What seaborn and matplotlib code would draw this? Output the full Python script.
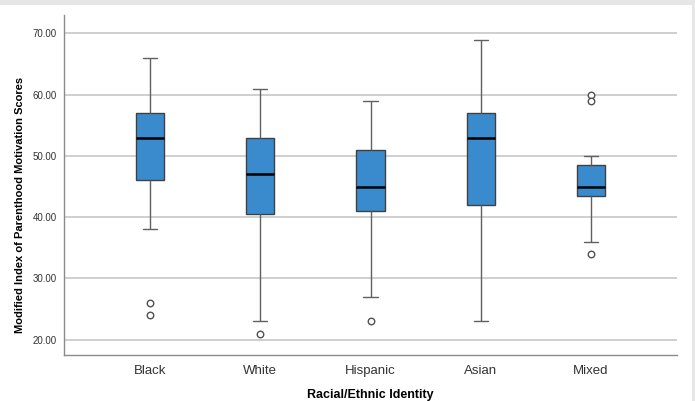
import pandas as pd
import matplotlib
matplotlib.use('Agg')
import matplotlib.pyplot as plt
import seaborn as sns
from matplotlib.patches import Rectangle

# Box summary (SPSS style: whisker ends, hinges, median)
groups = ['Black', 'White', 'Hispanic', 'Asian', 'Mixed']
whisker_low = [38, 23, 27, 23, 36]
q1 = [46, 40.5, 41, 42, 43.5]
median = [53, 47, 45, 53, 45]
q3 = [57, 53, 51, 57, 48.5]
whisker_high = [66, 61, 59, 69, 50]

# Outliers drawn as open circles
outlier_group = ['Black', 'Black', 'White', 'Hispanic', 'Mixed', 'Mixed', 'Mixed']
outlier_value = [26, 24, 21, 23, 60, 59, 34]

# Five points per group -> linear percentiles give exactly q1/median/q3,
# whis=(0, 100) puts whisker ends on the min/max
rows = []
for i, g in enumerate(groups):
    for v in [whisker_low[i], q1[i], median[i], q3[i], whisker_high[i]]:
        rows.append({'group': g, 'score': v})
df = pd.DataFrame(rows)
df_out = pd.DataFrame({'group': outlier_group, 'score': outlier_value})

sns.set_theme(style='white')
plt.rcParams['font.family'] = ['Liberation Sans', 'DejaVu Sans']

fig = plt.figure(figsize=(6.95, 4.01), dpi=100)
ax = fig.add_axes([64 / 695, 1 - 355 / 401, (677 - 64) / 695, (355 - 15) / 401])

box_color = '#3A8BCD'
sns.boxplot(data=df, x='group', y='score', order=groups, whis=(0, 100),
            width=0.255, color=box_color, saturation=1, ax=ax, zorder=3,
            boxprops=dict(edgecolor='#404040', linewidth=1.0),
            whiskerprops=dict(color='#606060', linewidth=1.0),
            capprops=dict(color='#606060', linewidth=1.0),
            medianprops=dict(color='black', linewidth=1.8),
            showfliers=False)

sns.scatterplot(data=df_out, x='group', y='score', ax=ax, marker='o', s=22,
                facecolor='white', edgecolor='#505050', linewidth=1.0, zorder=4,
                legend=False)

ax.set_xlim(-0.78, 4.78)
ax.set_ylim(17.5, 73.0)
ax.set_yticks([20, 30, 40, 50, 60, 70])
ax.set_yticklabels([f'{t:.2f}' for t in [20, 30, 40, 50, 60, 70]])
ax.yaxis.grid(True, color='#cccccc', linewidth=1.3, zorder=0)
ax.set_axisbelow(True)

for side in ['top', 'right']:
    ax.spines[side].set_visible(False)
for side in ['left', 'bottom']:
    ax.spines[side].set_color('#8a8a8a')
    ax.spines[side].set_linewidth(1.0)

ax.tick_params(axis='y', labelsize=7, colors='#333333', length=0, pad=5)
ax.tick_params(axis='x', labelsize=9.5, colors='#333333', length=0, pad=7)

ax.set_xlabel('Racial/Ethnic Identity', fontsize=9, fontweight='bold',
              color='black', labelpad=9)
ax.set_ylabel('Modified Index of Parenthood Motivation Scores', fontsize=8,
              fontweight='bold', color='black')
# SPSS puts the axis title a bit below the middle of the axis
ax.yaxis.set_label_coords(-0.064, 0.441)

# light gray frame strips along the top and right edge
fig.add_artist(Rectangle((0, 1 - 5 / 401), 1, 5 / 401, transform=fig.transFigure,
                         facecolor='#e6e6e6', edgecolor='none'))
fig.add_artist(Rectangle((1 - 3 / 695, 0), 3 / 695, 1, transform=fig.transFigure,
                         facecolor='#e6e6e6', edgecolor='none'))

fig.savefig('out.png', dpi=100)
